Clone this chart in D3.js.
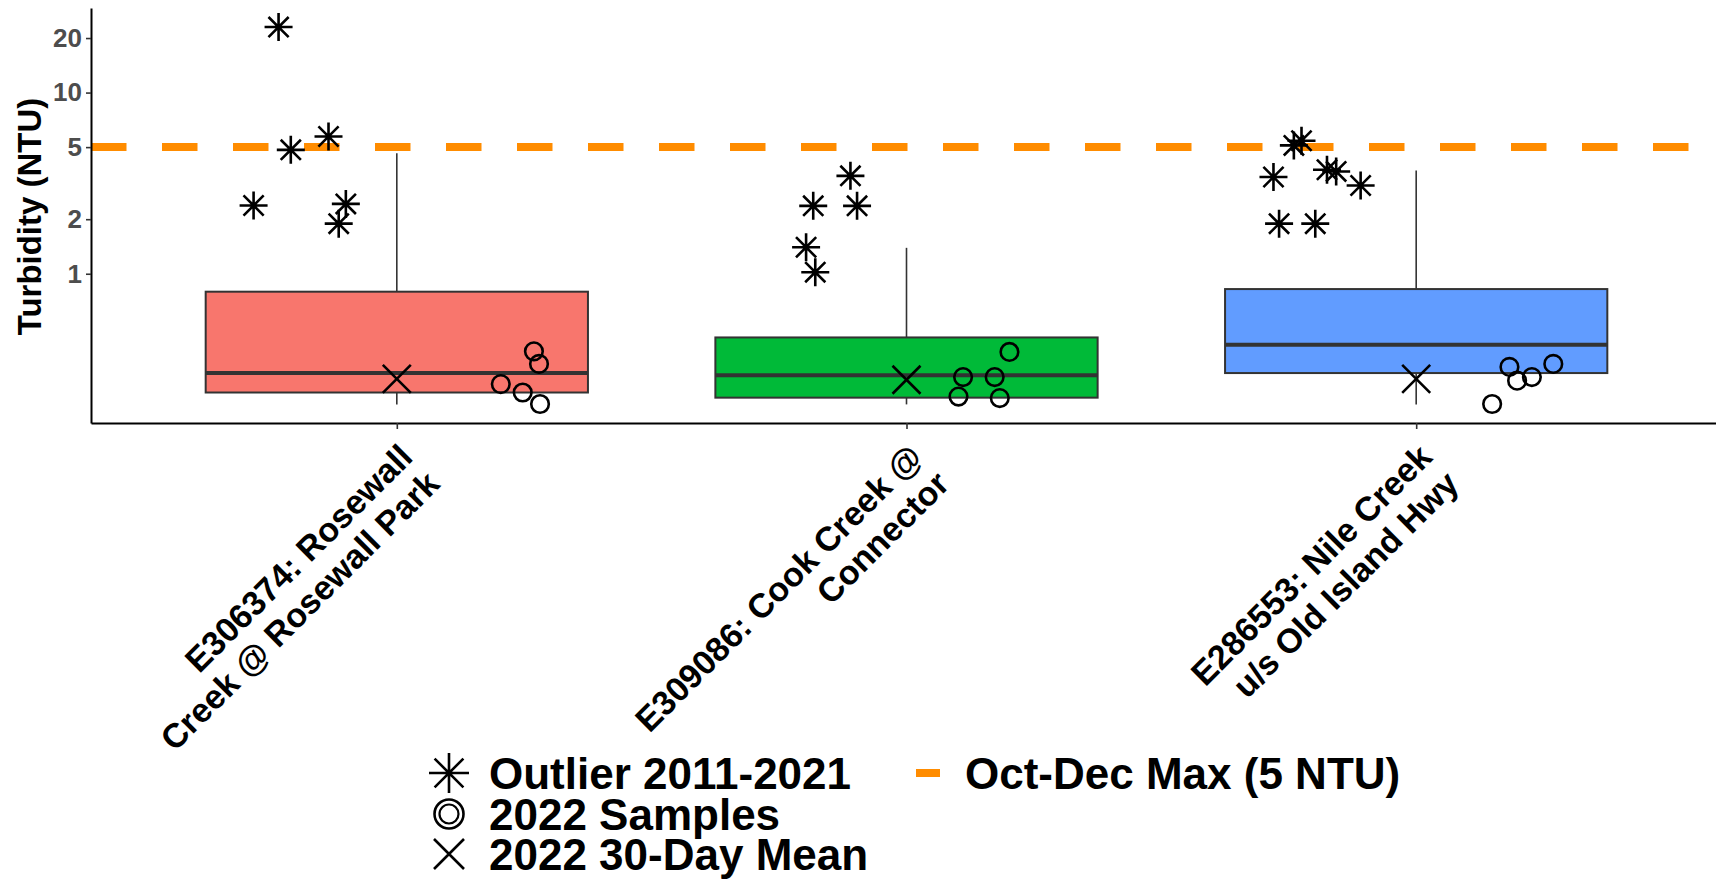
<!DOCTYPE html>
<html>
<head>
<meta charset="utf-8">
<script src="https://cdn.jsdelivr.net/npm/d3@7"></script>
<style>
  body { margin: 0; background: #fff; }
  text { font-family: "Liberation Sans", Arial, sans-serif; font-weight: bold; }
</style>
</head>
<body>
<div id="chart"></div>
<script>
// sites and their two-line axis labels
var sites = ["E306374", "E309086", "E286553"];
var siteLabels = [
  ["E306374: Rosewall", "Creek @ Rosewall Park"],
  ["E309086: Cook Creek @", "Connector"],
  ["E286553: Nile Creek", "u/s Old Island Hwy"]
];
var boxColors = ["#F8766D", "#00BA38", "#619CFF"];

// boxplot stats 2011-2021 (NTU)
var whiskerLow = [0.19, 0.19, 0.19];
var q1 = [0.221, 0.207, 0.283];
var median = [0.283, 0.275, 0.406];
var q3 = [0.796, 0.445, 0.823];
var whiskerHigh = [4.63, 1.39, 3.72];

// outliers 2011-2021, with horizontal jitter (in category units)
var outlierValues = [
  [23.0, 4.83, 5.72, 2.38, 2.43, 1.89],
  [3.47, 2.37, 2.37, 1.40, 1.02],
  [5.11, 5.42, 3.42, 3.75, 3.67, 3.07, 1.89, 1.89]
];
var outlierJitter = [
  [-0.232, -0.208, -0.134, -0.281, -0.100, -0.114],
  [-0.110, -0.183, -0.097, -0.197, -0.179],
  [-0.240, -0.225, -0.280, -0.175, -0.157, -0.109, -0.269, -0.198]
];

// 2022 samples
var sampleValues = [
  [0.373, 0.318, 0.246, 0.221, 0.191],
  [0.269, 0.269, 0.370, 0.210, 0.206],
  [0.306, 0.257, 0.269, 0.318, 0.191]
];
var sampleJitter = [
  [0.269, 0.279, 0.204, 0.247, 0.281],
  [0.111, 0.173, 0.202, 0.102, 0.183],
  [0.183, 0.198, 0.227, 0.269, 0.149]
];

// 2022 30-day mean
var mean30 = [0.263, 0.260, 0.263];

var limitValue = 5;
var yTicks = [1, 2, 5, 10, 20];

// set the dimensions and margins of the graph
var W = 1716, H = 882;
var margin = {top: 8, right: 1722, bottom: 423, left: 91}; // panel edges in px

var svg = d3.select("#chart").append("svg")
  .attr("width", W)
  .attr("height", H);

// set the ranges
var x = d3.scalePoint().domain(sites).range([margin.left, margin.right]).padding(0.6);
var y = d3.scaleLog().domain([0.15, 29.3]).range([margin.bottom, margin.top]);
var step = x.step();
var boxW = step * 0.75;

var idx = d3.range(sites.length);

// boxes
var boxes = svg.append("g");
idx.forEach(function(i) {
  var cx = x(sites[i]);
  // whiskers
  boxes.append("line")
    .attr("x1", cx).attr("x2", cx)
    .attr("y1", y(q3[i])).attr("y2", y(whiskerHigh[i]))
    .attr("stroke", "#333").attr("stroke-width", 1.6);
  boxes.append("line")
    .attr("x1", cx).attr("x2", cx)
    .attr("y1", y(q1[i])).attr("y2", y(whiskerLow[i]))
    .attr("stroke", "#333").attr("stroke-width", 1.6);
  boxes.append("rect")
    .attr("x", cx - boxW / 2)
    .attr("width", boxW)
    .attr("y", y(q3[i]))
    .attr("height", y(q1[i]) - y(q3[i]))
    .attr("fill", boxColors[i])
    .attr("stroke", "#333")
    .attr("stroke-width", 2);
  boxes.append("line")
    .attr("x1", cx - boxW / 2).attr("x2", cx + boxW / 2)
    .attr("y1", y(median[i])).attr("y2", y(median[i]))
    .attr("stroke", "#333").attr("stroke-width", 4);
});

// limit line
svg.append("line")
  .attr("x1", margin.left).attr("x2", W)
  .attr("y1", y(limitValue)).attr("y2", y(limitValue))
  .attr("stroke", "#FF8C00")
  .attr("stroke-width", 8)
  .attr("stroke-dasharray", "35.5,35.5");

var starPath = function(r) {
  var d = r * 0.72;
  return "M0," + (-r) + "V" + r + "M" + (-r) + ",0H" + r +
    "M" + (-d) + "," + (-d) + "L" + d + "," + d +
    "M" + (-d) + "," + d + "L" + d + "," + (-d);
};
var crossPath = function(r) {
  return "M" + (-r) + "," + (-r) + "L" + r + "," + r +
    "M" + (-r) + "," + r + "L" + r + "," + (-r);
};

// outliers
idx.forEach(function(i) {
  outlierValues[i].forEach(function(v, j) {
    svg.append("path")
      .attr("transform", "translate(" + (x(sites[i]) + outlierJitter[i][j] * step) + "," + y(v) + ")")
      .attr("d", starPath(14))
      .attr("stroke", "#000").attr("stroke-width", 2.6).attr("fill", "none");
  });
});

// 30-day means
idx.forEach(function(i) {
  svg.append("path")
    .attr("transform", "translate(" + x(sites[i]) + "," + y(mean30[i]) + ")")
    .attr("d", crossPath(14))
    .attr("stroke", "#000").attr("stroke-width", 2.6).attr("fill", "none");
});

// 2022 samples
idx.forEach(function(i) {
  sampleValues[i].forEach(function(v, j) {
    svg.append("circle")
      .attr("cx", x(sites[i]) + sampleJitter[i][j] * step)
      .attr("cy", y(v))
      .attr("r", 8.8)
      .attr("fill", "none")
      .attr("stroke", "#000").attr("stroke-width", 2.6);
  });
});

// Y axis
var yAxis = svg.append("g")
  .attr("transform", "translate(" + margin.left + ",0)")
  .call(d3.axisLeft(y).tickValues(yTicks).tickFormat(d3.format("d")).tickSize(5).tickSizeOuter(0).tickPadding(4));
yAxis.select(".domain").attr("stroke", "#000").attr("stroke-width", 2);
yAxis.selectAll(".tick line").attr("stroke", "#333").attr("stroke-width", 1.6);
yAxis.selectAll(".tick text")
  .attr("fill", "#4D4D4D")
  .style("font-size", "26px")
  .style("font-family", "'Liberation Sans', Arial, sans-serif")
  .style("font-weight", "bold");

// X axis
var xAxis = svg.append("g")
  .attr("transform", "translate(0," + margin.bottom + ")")
  .call(d3.axisBottom(x).tickSize(6).tickSizeOuter(0).tickFormat(""));
xAxis.select(".domain").attr("stroke", "#000").attr("stroke-width", 2);
xAxis.selectAll(".tick line").attr("stroke", "#333").attr("stroke-width", 1.6);

// x tick labels, rotated 45 degrees, two lines, right aligned
idx.forEach(function(i) {
  var t = svg.append("text")
    .attr("transform", "translate(" + x(sites[i]) + "," + margin.bottom + ") rotate(-45)")
    .attr("text-anchor", "end")
    .style("font-size", "34px")
    .attr("fill", "#000");
  siteLabels[i].forEach(function(line, k) {
    t.append("tspan").attr("x", -13).attr("y", 38 + k * 38).text(line);
  });
});

// Add the text for Y-axis
svg.append("text")
  .attr("transform", "translate(41," + ((margin.top + margin.bottom) / 2 + 1) + ") rotate(-90)")
  .attr("text-anchor", "middle")
  .style("font-size", "33px")
  .text("Turbidity (NTU)");

// legend
var legend = svg.append("g");
var rowY = [773, 814, 854];
legend.append("path")
  .attr("transform", "translate(449," + rowY[0] + ")")
  .attr("d", starPath(20))
  .attr("stroke", "#000").attr("stroke-width", 2.6).attr("fill", "none");
legend.append("circle").attr("cx", 449).attr("cy", rowY[1]).attr("r", 14.5)
  .attr("fill", "none").attr("stroke", "#000").attr("stroke-width", 2.6);
legend.append("circle").attr("cx", 449).attr("cy", rowY[1]).attr("r", 9.5)
  .attr("fill", "none").attr("stroke", "#000").attr("stroke-width", 2.2);
legend.append("path")
  .attr("transform", "translate(449," + rowY[2] + ")")
  .attr("d", crossPath(15))
  .attr("stroke", "#000").attr("stroke-width", 2.6).attr("fill", "none");
var legendText = ["Outlier 2011-2021", "2022 Samples", "2022 30-Day Mean"];
legendText.forEach(function(s, k) {
  legend.append("text")
    .attr("x", 489).attr("y", rowY[k] + 16)
    .style("font-size", "44px")
    .text(s);
});
legend.append("rect")
  .attr("x", 916).attr("y", rowY[0] - 4)
  .attr("width", 24).attr("height", 8)
  .attr("fill", "#FF8C00");
legend.append("text")
  .attr("x", 965).attr("y", rowY[0] + 16)
  .style("font-size", "44px")
  .text("Oct-Dec Max (5 NTU)");
</script>
</body>
</html>
